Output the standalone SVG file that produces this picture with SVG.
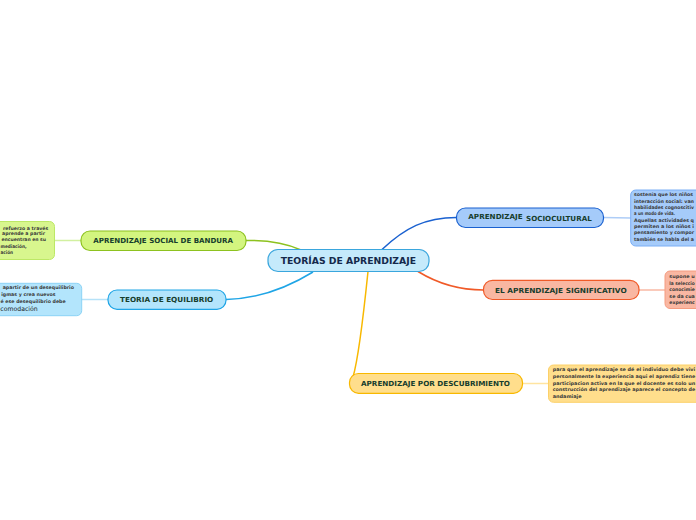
<svg xmlns="http://www.w3.org/2000/svg" width="696" height="520" viewBox="0 0 696 520">
<style>
.lbl{font-family:"DejaVu Sans",Verdana,sans-serif;font-weight:bold;font-size:7px;fill:#163d2c}
.ctr{font-family:"DejaVu Sans",Verdana,sans-serif;font-weight:bold;font-size:8.6px;fill:#14294b}
.det{font-family:"DejaVu Sans",Verdana,sans-serif;font-weight:bold;font-size:4.8px;fill:#3a3a3a}
.main{fill:none;stroke-width:1.5}
.sub{fill:none;stroke-width:1.5}
</style>
<rect width="696" height="520" fill="#ffffff"/>
<g id="connectors">
<path class="main" d="M 246 240.5 C 270 240, 290 245, 301 250" stroke="#8dc21f"/>
<path class="main" d="M 313 272 C 282 291, 252 299, 226 299.5" stroke="#1fa5e6"/>
<path class="main" d="M 382 249.5 C 405 228, 425 217.5, 456.5 217.5" stroke="#1a61d0"/>
<path class="main" d="M 418 271.5 C 440 285, 460 290, 483.5 290" stroke="#f05a28"/>
<path class="main" d="M 368 271.5 C 363 320, 358 360, 353 377" stroke="#f8b800"/>
<path class="sub" d="M 54 240.5 L 81 240.5" stroke="#d2f0a0"/>
<path class="sub" d="M 81 299.5 L 108 299.5" stroke="#b6e2f8"/>
<path class="sub" d="M 603 217.5 L 631 218" stroke="#aecdf7"/>
<path class="sub" d="M 639 290 L 665 290" stroke="#f9b9a5"/>
<path class="sub" d="M 522.5 383.5 L 548.5 383.5" stroke="#ffe4a0"/>
</g>
<g id="center">
<rect x="268" y="249.5" width="161" height="22" rx="10" fill="#c5eafb" stroke="#3aa6dd" stroke-width="1.2"/>
<text class="ctr" x="280.7" y="264.2" textLength="135.3" lengthAdjust="spacingAndGlyphs">TEORÍAS DE APRENDIZAJE</text>
</g>
<g id="bandura">
<rect x="81" y="231" width="165" height="19.5" rx="9" fill="#d3f57f" stroke="#8dc21f" stroke-width="1.2"/>
<text class="lbl" x="93.3" y="243" textLength="139.7" lengthAdjust="spacingAndGlyphs">APRENDIZAJE SOCIAL DE BANDURA</text>
</g>
<g id="bandura-detail">
<rect x="-10" y="221.5" width="64.5" height="38" rx="5" fill="#d8f68e" stroke="#bde866" stroke-width="1"/>
<text class="det" x="3" y="229.5" textLength="45.3" lengthAdjust="spacingAndGlyphs">refuerzo a través</text>
<text class="det" x="2" y="235" textLength="43" lengthAdjust="spacingAndGlyphs">aprende a partir</text>
<text class="det" x="1.5" y="241" textLength="44.5" lengthAdjust="spacingAndGlyphs">encuentran en su</text>
<text class="det" x="0.5" y="247.5" textLength="26" lengthAdjust="spacingAndGlyphs">mediación,</text>
<text class="det" x="0.5" y="254" textLength="12.5" lengthAdjust="spacingAndGlyphs">ación</text>
</g>
<g id="equilibrio">
<rect x="108" y="290" width="118" height="19.3" rx="9" fill="#b3e5fc" stroke="#1fa5e6" stroke-width="1.2"/>
<text class="lbl" x="120" y="302.3" textLength="93.3" lengthAdjust="spacingAndGlyphs">TEORIA DE EQUILIBRIO</text>
</g>
<g id="equilibrio-detail">
<rect x="-10" y="283.3" width="91.7" height="32.4" rx="5" fill="#b3e5fc" stroke="#8cd3f5" stroke-width="1"/>
<text class="det" x="2.7" y="289.3" textLength="71.3" lengthAdjust="spacingAndGlyphs">apartir de un desequilibrio</text>
<text class="det" x="1.2" y="296" textLength="54.5" lengthAdjust="spacingAndGlyphs">igmas y crea nuevos</text>
<text class="det" x="0.5" y="302.5" textLength="65.2" lengthAdjust="spacingAndGlyphs">é ese desequilibrio debe</text>
<text class="det" x="0.3" y="311.3" textLength="37.4" lengthAdjust="spacingAndGlyphs" style="font-size:6.4px;font-weight:normal;fill:#1a1a1a">comodación</text>
</g>
<g id="sociocultural">
<rect x="456.5" y="208" width="147" height="19.5" rx="9" fill="#a5cbfa" stroke="#1a61d0" stroke-width="1.2"/>
<text class="lbl" x="468.3" y="219.3" textLength="54.4" lengthAdjust="spacingAndGlyphs">APRENDIZAJE</text>
<text class="lbl" x="526" y="221.2" textLength="65.7" lengthAdjust="spacingAndGlyphs">SOCIOCULTURAL</text>
</g>
<g id="sociocultural-detail">
<rect x="630.7" y="190" width="80" height="56" rx="5" fill="#a5cbfa" stroke="#7aaef5" stroke-width="1"/>
<text class="det" x="634" y="196.3" textLength="59" lengthAdjust="spacingAndGlyphs">sostenía que los niños</text>
<text class="det" x="634" y="202.6" textLength="60" lengthAdjust="spacingAndGlyphs">interacción social: van</text>
<text class="det" x="634" y="209" textLength="60" lengthAdjust="spacingAndGlyphs">habilidades cognoscitiv</text>
<text class="det" x="634" y="215.2" textLength="41" lengthAdjust="spacingAndGlyphs">a un modo de vida.</text>
<text class="det" x="634" y="221.7" textLength="60" lengthAdjust="spacingAndGlyphs">Aquellas actividades q</text>
<text class="det" x="634" y="227.8" textLength="60" lengthAdjust="spacingAndGlyphs">permiten a los niños i</text>
<text class="det" x="634" y="234.3" textLength="60" lengthAdjust="spacingAndGlyphs">pensamiento y compor</text>
<text class="det" x="634" y="240.6" textLength="60" lengthAdjust="spacingAndGlyphs">también se habla del a</text>
</g>
<g id="significativo">
<rect x="483.5" y="280.3" width="155.5" height="19.2" rx="9" fill="#f9b7a2" stroke="#f05a28" stroke-width="1.2"/>
<text class="lbl" x="495" y="292.7" textLength="131.7" lengthAdjust="spacingAndGlyphs">EL APRENDIZAJE SIGNIFICATIVO</text>
</g>
<g id="significativo-detail">
<rect x="665" y="271" width="45" height="37.5" rx="5" fill="#f9b7a2" stroke="#f59c80" stroke-width="1"/>
<text class="det" x="669.3" y="278" textLength="25.5" lengthAdjust="spacingAndGlyphs">supone u</text>
<text class="det" x="669.3" y="284.5" textLength="25.5" lengthAdjust="spacingAndGlyphs">la seleccio</text>
<text class="det" x="669.3" y="291" textLength="25.5" lengthAdjust="spacingAndGlyphs">conocimie</text>
<text class="det" x="669.3" y="297.5" textLength="25.5" lengthAdjust="spacingAndGlyphs">se da cua</text>
<text class="det" x="669.3" y="303.6" textLength="25.5" lengthAdjust="spacingAndGlyphs">experienc</text>
</g>
<g id="descubrimiento">
<rect x="349.5" y="373.5" width="173" height="19.8" rx="9" fill="#ffde8c" stroke="#f8b800" stroke-width="1.2"/>
<text class="lbl" x="361" y="386" textLength="149" lengthAdjust="spacingAndGlyphs">APRENDIZAJE POR DESCUBRIMIENTO</text>
</g>
<g id="descubrimiento-detail">
<rect x="548.5" y="365" width="160" height="37.3" rx="5" fill="#ffde8c" stroke="#fcd068" stroke-width="1"/>
<text class="det" x="552.7" y="371.3" textLength="142.5" lengthAdjust="spacingAndGlyphs">para que el aprendizaje se dé el individuo debe vivi</text>
<text class="det" x="552.7" y="378.4" textLength="142.5" lengthAdjust="spacingAndGlyphs">personalmente la experiencia aqui el aprendiz tiene</text>
<text class="det" x="552.7" y="384.8" textLength="142.5" lengthAdjust="spacingAndGlyphs">participacion activa en la que el docente es solo un</text>
<text class="det" x="552.7" y="391.2" textLength="142.5" lengthAdjust="spacingAndGlyphs">construcción del aprendizaje aparece el concepto de</text>
<text class="det" x="552.7" y="397.8" textLength="29" lengthAdjust="spacingAndGlyphs">andamiaje</text>
</g>
</svg>
